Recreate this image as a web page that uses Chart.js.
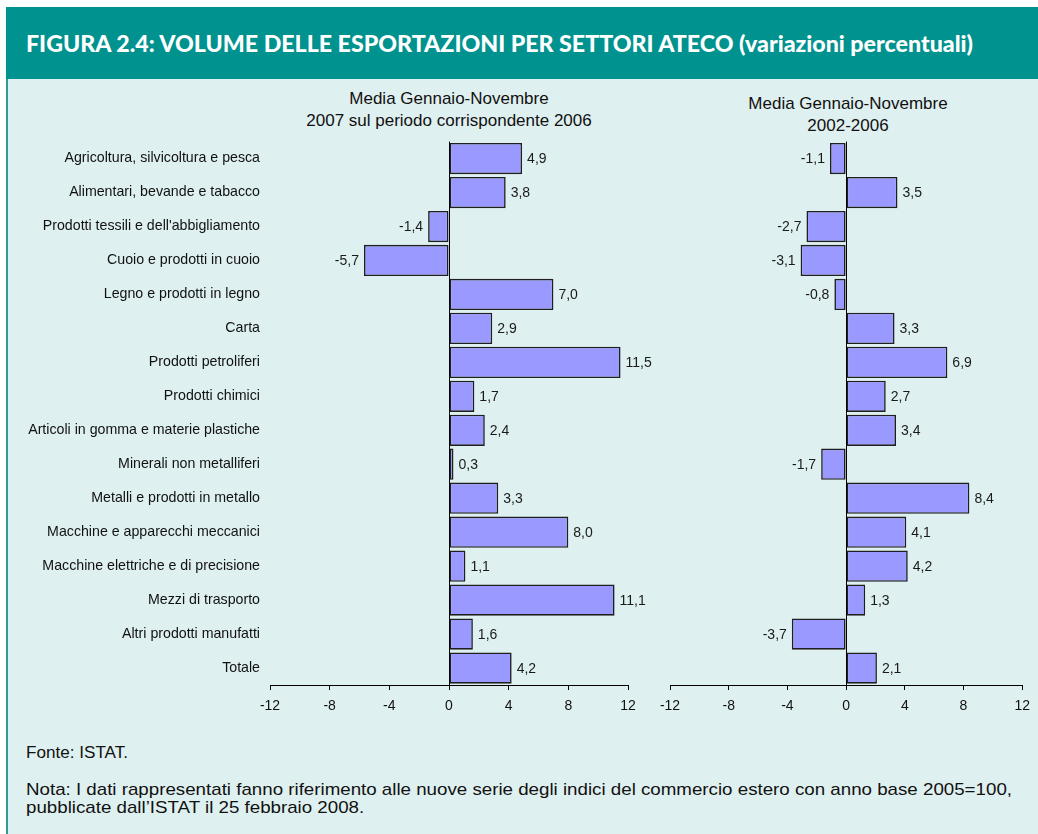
<!DOCTYPE html>
<html>
<head>
<meta charset="utf-8">
<script src="https://cdn.jsdelivr.net/npm/chart.js@4.4.1/dist/chart.umd.min.js"></script>
<style>
  html, body { margin: 0; padding: 0; background: #ffffff; }
  body { width: 1038px; height: 834px; position: relative; overflow: hidden; font-family: "Liberation Sans", Arial, sans-serif; }
  #header { position: absolute; left: 6px; top: 7px; width: 1032px; height: 72px; background: #00928e; }
  #headerText { position: absolute; left: 20px; top: 0; line-height: 72px; height: 72px; color: #ffffff; font-family: "Lato", "DejaVu Sans", sans-serif; font-weight: 900; font-size: 23px; white-space: nowrap; transform-origin: 0 50%; }
  #panel { position: absolute; left: 6px; top: 79px; width: 1032px; height: 755px; background: #dff0f0; border-left: 2px solid #2a9d99; box-sizing: border-box; }
  .title { position: absolute; text-align: center; font-size: 17px; line-height: 22px; color: #111; white-space: nowrap; transform: translateX(-50%); }
  canvas { position: absolute; }
  .foot { position: absolute; left: 26px; font-size: 16.4px; line-height: 18px; color: #111; white-space: nowrap; transform-origin: 0 0; }
</style>
</head>
<body>
<div id="header"><div id="headerText">FIGURA 2.4: VOLUME DELLE ESPORTAZIONI PER SETTORI ATECO (variazioni percentuali)</div></div>
<div id="panel"></div>
<div class="title" style="left:449px; top:88px;">Media Gennaio-Novembre<br>2007 sul periodo corrispondente 2006</div>
<div class="title" style="left:848px; top:93px;">Media Gennaio-Novembre<br>2002-2006</div>
<canvas id="c1" width="680" height="600" style="left:0px; top:130px;"></canvas>
<canvas id="c2" width="398" height="600" style="left:640px; top:130px;"></canvas>
<div class="foot" id="f1" style="top:743px;">Fonte: ISTAT.</div>
<div class="foot" id="f2" style="top:780px;">Nota: I dati rappresentati fanno riferimento alle nuove serie degli indici del commercio estero con anno base 2005=100,<br>pubblicate dall’ISTAT il 25 febbraio 2008.</div>
<script>
const categories = [
  "Agricoltura, silvicoltura e pesca",
  "Alimentari, bevande e tabacco",
  "Prodotti tessili e dell'abbigliamento",
  "Cuoio e prodotti in cuoio",
  "Legno e prodotti in legno",
  "Carta",
  "Prodotti petroliferi",
  "Prodotti chimici",
  "Articoli in gomma e materie plastiche",
  "Minerali non metalliferi",
  "Metalli e prodotti in metallo",
  "Macchine e apparecchi meccanici",
  "Macchine elettriche e di precisione",
  "Mezzi di trasporto",
  "Altri prodotti manufatti",
  "Totale"
];
const values2007 = [4.9, 3.8, -1.4, -5.7, 7.0, 2.9, 11.5, 1.7, 2.4, 0.3, 3.3, 8.0, 1.1, 11.1, 1.6, 4.2];
const values2002_2006 = [-1.1, 3.5, -2.7, -3.1, -0.8, 3.3, 6.9, 2.7, 3.4, -1.7, 8.4, 4.1, 4.2, 1.3, -3.7, 2.1];
const xTicks = [-12, -8, -4, 0, 4, 8, 12];

// Fit header width and footnote widths
(function(){
  const h = document.getElementById('headerText');
  const w = h.getBoundingClientRect().width;
  h.style.transform = 'scaleX(' + (947 / w) + ')';
  const f1 = document.getElementById('f1');
  f1.style.transform = 'scaleX(' + (102 / f1.getBoundingClientRect().width) + ')';
  const f2 = document.getElementById('f2');
  const tmp = document.createElement('span');
  tmp.style.cssText = 'position:absolute;visibility:hidden;white-space:nowrap;font-size:16.4px;font-family:"Liberation Sans", Arial, sans-serif;';
  tmp.textContent = 'Nota: I dati rappresentati fanno riferimento alle nuove serie degli indici del commercio estero con anno base 2005=100,';
  document.body.appendChild(tmp);
  const tw = tmp.getBoundingClientRect().width;
  document.body.removeChild(tmp);
  f2.style.transform = 'scaleX(' + (986 / tw) + ')';
})();

const FONT = '"Liberation Sans", Arial, sans-serif';

const valueLabels = {
  id: 'valueLabels',
  afterDatasetsDraw(chart) {
    const ctx = chart.ctx;
    const meta = chart.getDatasetMeta(0);
    const data = chart.data.datasets[0].data;
    ctx.save();
    ctx.font = '14px ' + FONT;
    ctx.fillStyle = '#1a1a1a';
    ctx.textBaseline = 'middle';
    meta.data.forEach((el, i) => {
      const v = data[i];
      const txt = v.toFixed(1).replace('.', ',');
      if (v >= 0) {
        ctx.textAlign = 'left';
        ctx.fillText(txt, el.x + 5, el.y + 1);
      } else {
        ctx.textAlign = 'right';
        ctx.fillText(txt, el.x - 5, el.y + 1);
      }
    });
    ctx.restore();
  }
};

function makeChart(id, values, showLabels, pad) {
  const xScale = {
    type: 'linear',
    min: xTicks[0],
    max: xTicks[xTicks.length - 1],
    afterBuildTicks: s => { s.ticks = xTicks.map(v => ({ value: v })); },
    afterFit: s => { s.height = 45; },
    ticks: {
      font: { family: FONT, size: 14 },
      color: '#111',
      padding: 8,
      maxRotation: 0,
      callback: v => String(v)
    },
    grid: {
      drawOnChartArea: true,
      drawTicks: true,
      tickLength: 5,
      tickColor: '#000',
      lineWidth: 1,
      color: ctx => (ctx.tick && ctx.tick.value === 0) ? '#000' : 'rgba(0,0,0,0)'
    },
    border: { display: true, color: '#000', width: 1 }
  };
  const yScale = showLabels ? {
    type: 'category',
    afterFit: s => { s.width = 270; },
    ticks: { font: { family: FONT, size: 14.2 }, color: '#111', padding: 0 },
    grid: { display: false, drawTicks: true, tickLength: 10 },
    border: { display: false }
  } : { type: 'category', display: false };

  return new Chart(document.getElementById(id), {
    type: 'bar',
    data: {
      labels: categories,
      datasets: [{
        data: values,
        backgroundColor: '#9999ff',
        borderColor: '#1f1f1f',
        borderWidth: 1.6,
        borderSkipped: false,
        barPercentage: 0.92,
        categoryPercentage: 1.0
      }]
    },
    options: {
      indexAxis: 'y',
      responsive: false,
      animation: false,
      devicePixelRatio: 1,
      layout: { padding: pad },
      plugins: { legend: { display: false }, tooltip: { enabled: false } },
      scales: { x: xScale, y: yScale }
    },
    plugins: [valueLabels]
  });
}

const ch1 = makeChart('c1', values2007, true, { left: 0, right: 52, top: 12, bottom: 0 });
const ch2 = makeChart('c2', values2002_2006, false, { left: 30, right: 13, top: 12, bottom: 0 });

// align plot areas to the reference frame (canvas-relative targets)
function align(ch, target) {
  const p = ch.options.layout.padding;
  const a = ch.chartArea;
  p.top = Math.max(0, p.top - (a.top - target.top));
  p.left = Math.max(0, p.left - (a.left - target.left));
  p.right = Math.max(0, p.right - (target.right - a.right));
  ch.update();
}
align(ch1, { top: 11.6, left: 270, right: 628 });
align(ch2, { top: 11.6, left: 30, right: 385 });
</script>
</body>
</html>
